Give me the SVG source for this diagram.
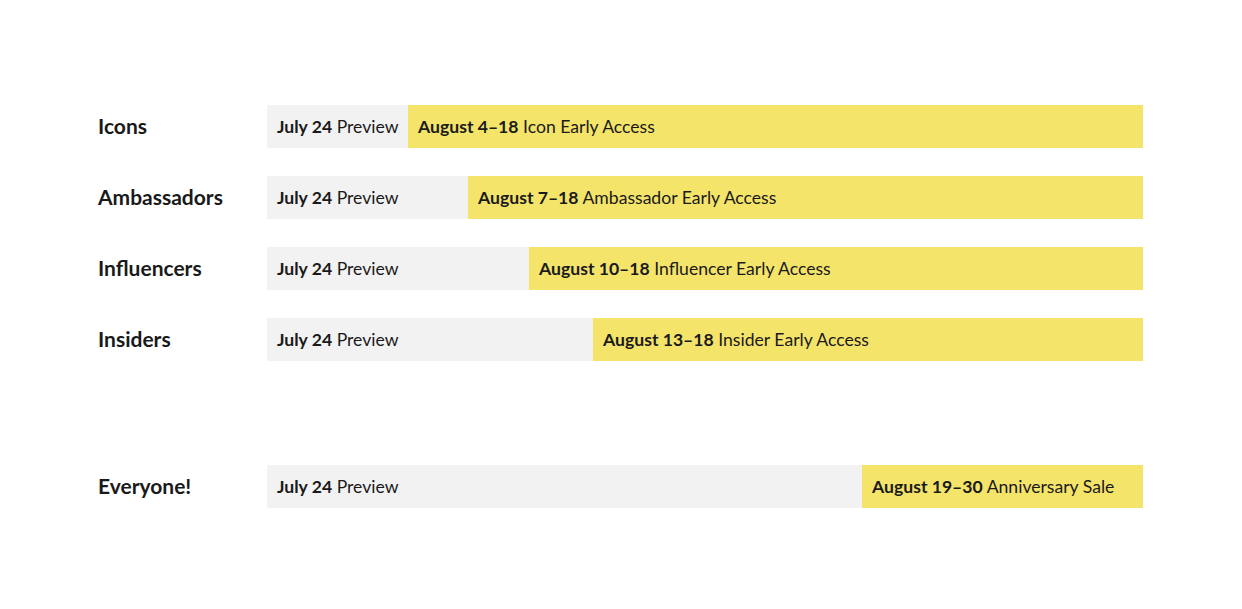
<svg xmlns="http://www.w3.org/2000/svg" width="1242" height="609" viewBox="0 0 1242 609">
<style>
.bg{fill:#ffffff}
.grey{fill:#f2f2f2}
.yel{fill:#f5e46a}
.lbl{font-family:Lato,"Liberation Sans",sans-serif;font-size:21px;font-weight:700;fill:#1a1a1a}
.t{font-family:Lato,"Liberation Sans",sans-serif;font-size:17.6px;fill:#1a1a1a}
.b{font-weight:700}
</style>
<rect class="bg" x="0" y="0" width="1242" height="609"/>
<g id="row-icons">
<text class="lbl" x="98" y="134">Icons</text>
<rect class="grey" x="267" y="105" width="141" height="43"/>
<rect class="yel" x="408" y="105" width="735" height="43"/>
<text class="t" x="277" y="133"><tspan class="b">July 24</tspan> Preview</text>
<text class="t" x="418" y="133"><tspan class="b">August 4–18</tspan> Icon Early Access</text>
</g>
<g id="row-ambassadors">
<text class="lbl" x="98" y="205">Ambassadors</text>
<rect class="grey" x="267" y="176" width="201" height="43"/>
<rect class="yel" x="468" y="176" width="675" height="43"/>
<text class="t" x="277" y="204"><tspan class="b">July 24</tspan> Preview</text>
<text class="t" x="478" y="204"><tspan class="b">August 7–18</tspan> Ambassador Early Access</text>
</g>
<g id="row-influencers">
<text class="lbl" x="98" y="276">Influencers</text>
<rect class="grey" x="267" y="247" width="262" height="43"/>
<rect class="yel" x="529" y="247" width="614" height="43"/>
<text class="t" x="277" y="275"><tspan class="b">July 24</tspan> Preview</text>
<text class="t" x="539" y="275"><tspan class="b">August 10–18</tspan> Influencer Early Access</text>
</g>
<g id="row-insiders">
<text class="lbl" x="98" y="347">Insiders</text>
<rect class="grey" x="267" y="318" width="326" height="43"/>
<rect class="yel" x="593" y="318" width="550" height="43"/>
<text class="t" x="277" y="346"><tspan class="b">July 24</tspan> Preview</text>
<text class="t" x="603" y="346"><tspan class="b">August 13–18</tspan> Insider Early Access</text>
</g>
<g id="row-everyone">
<text class="lbl" x="98" y="494">Everyone!</text>
<rect class="grey" x="267" y="465" width="595" height="43"/>
<rect class="yel" x="862" y="465" width="281" height="43"/>
<text class="t" x="277" y="493"><tspan class="b">July 24</tspan> Preview</text>
<text class="t" x="872" y="493"><tspan class="b">August 19–30</tspan> Anniversary Sale</text>
</g>
<g id="connectors"></g>
</svg>
